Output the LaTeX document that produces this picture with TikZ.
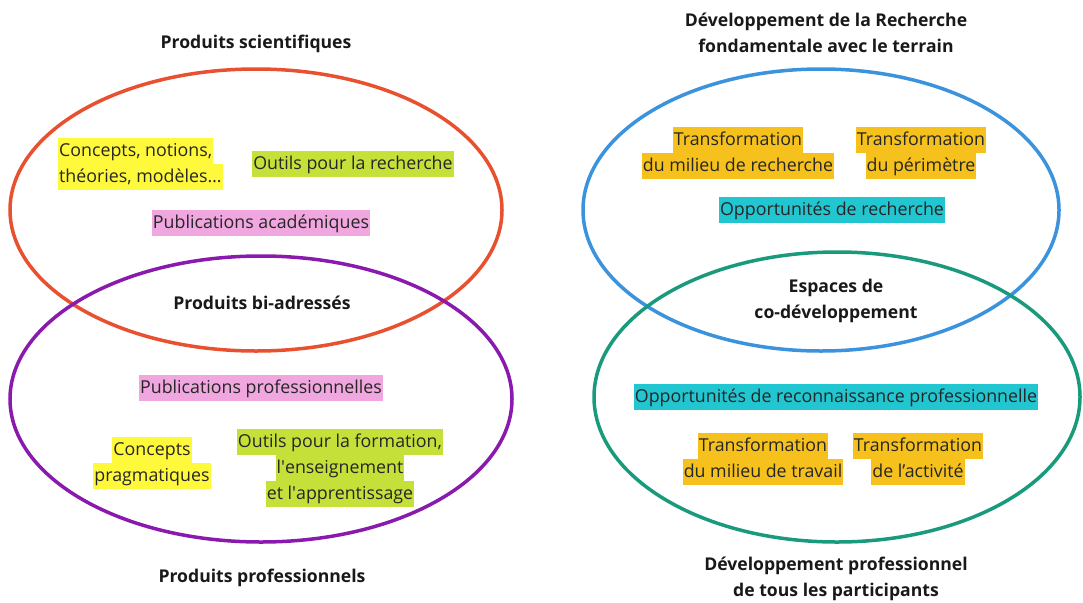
\documentclass[tikz,border=0pt]{standalone}
\usepackage{fontspec}
\setmainfont{Open Sans}
\usepackage{tikz}

\definecolor{ringred}{HTML}{E8502F}
\definecolor{ringpurple}{HTML}{8A1AAE}
\definecolor{ringblue}{HTML}{3C93DD}
\definecolor{ringgreen}{HTML}{1A9A7C}
\definecolor{hlyellow}{HTML}{FFF93C}
\definecolor{hllime}{HTML}{C6E03A}
\definecolor{hlpink}{HTML}{F0A6DE}
\definecolor{hlorange}{HTML}{F6C11C}
\definecolor{hlcyan}{HTML}{22C6D0}

\setlength{\fboxsep}{1pt}
\newcommand{\hl}[2]{\colorbox{#1}{\rule[-6.5pt]{0pt}{24pt}#2}}

\tikzset{
  title/.style={font=\fontsize{17.6}{26}\selectfont\bfseries, align=center, text=black!90},
  item/.style={font=\fontsize{17.8}{26}\selectfont, align=center, inner sep=0pt, text=black!85},
  ring/.style={line width=3.5pt},
}

\begin{document}
\begin{tikzpicture}[x=1pt,y=-1pt]
                \useasboundingbox[fill=white] (0,0) rectangle (1083,602);

                % Products circles
                \draw[ring, ringred] (256,210) ellipse [x radius=246, y radius=141];
                \draw[ring, ringpurple] (261,399) ellipse [x radius=251, y radius=143];

                % Development circles
                \draw[ring, ringblue] (821,210) ellipse [x radius=238, y radius=141];
                \draw[ring, ringgreen] (837,397) ellipse [x radius=243, y radius=145];

                % Titles
                \node[title] (sci) at (256,44) {Produits scientifiques};
                \node[title] (biadr) at (262,303) {Produits bi-adressés};
                \node[title] (prodpro) at (262,578) {Produits professionnels};
                \node[title] (devrech) at (826,33) {Développement de la Recherche\\fondamentale avec le terrain};
                \node[title] (espaces) at (836,301) {Espaces de\\co-développement};
                \node[title] (devpro) at (836,579) {Développement professionnel\\de tous les participants};

                % Scientific products
                \node[item, align=left, anchor=west] (concepts) at (58,164) {\hl{hlyellow}{Concepts, notions,}\\\hl{hlyellow}{théories, modèles…}};
                \node[item] (outilsrech) at (353,164) {\hl{hllime}{Outils pour la recherche}};
                \node[item] (pubaca) at (261,223) {\hl{hlpink}{Publications académiques}};

                % Professional products
                \node[item] (pubpro) at (261,388) {\hl{hlpink}{Publications professionnelles}};
                \node[item] (concprag) at (152,463) {\hl{hlyellow}{Concepts}\\\hl{hlyellow}{pragmatiques}};
                \node[item] (outilsform) at (340,468) {\hl{hllime}{Outils pour la formation,}\\\hl{hllime}{l\textquotesingle enseignement}\\\hl{hllime}{et l\textquotesingle apprentissage}};

                % Research development
                \node[item] (tmilrech) at (738,153) {\hl{hlorange}{Transformation}\\\hl{hlorange}{du milieu de recherche}};
                \node[item] (tperim) at (921,153) {\hl{hlorange}{Transformation}\\\hl{hlorange}{du périmètre}};
                \node[item] (opprech) at (832,210) {\hl{hlcyan}{Opportunités de recherche}};

                % Professional development
                \node[item] (oppreco) at (836,397) {\hl{hlcyan}{Opportunités de reconnaissance professionnelle}};
                \node[item] (tmiltrav) at (763,459) {\hl{hlorange}{Transformation}\\\hl{hlorange}{du milieu de travail}};
                \node[item] (tactiv) at (918,459) {\hl{hlorange}{Transformation}\\\hl{hlorange}{de l’activité}};
            \end{tikzpicture}
\end{document}
